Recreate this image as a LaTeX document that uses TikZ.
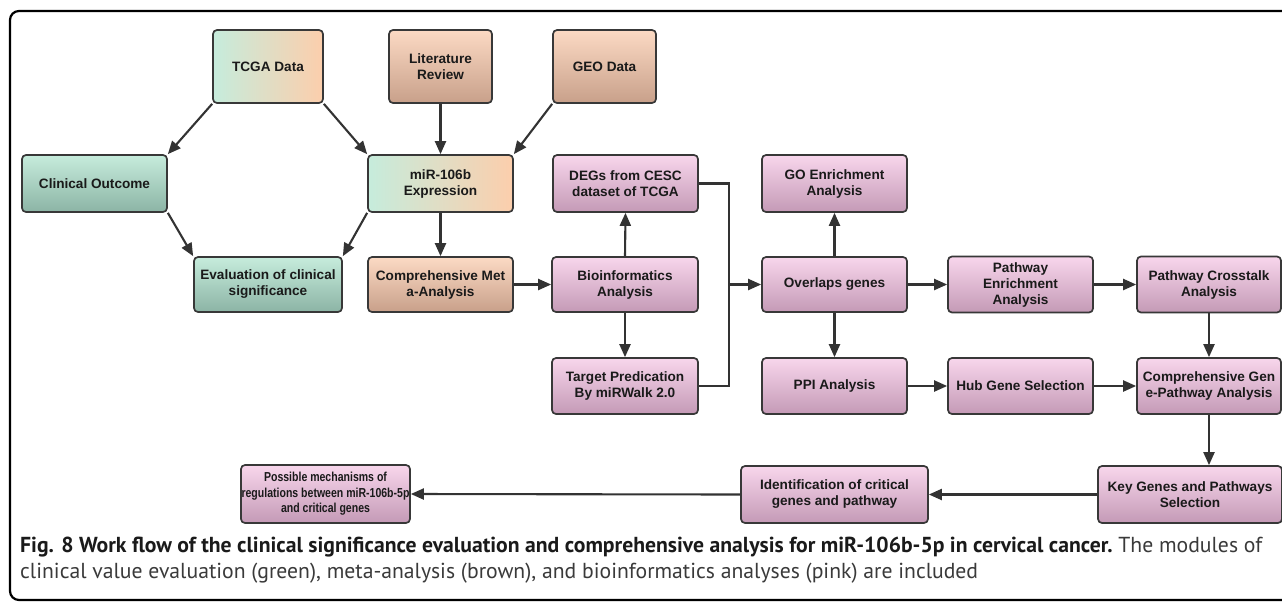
\documentclass[tikz,border=0pt]{standalone}
\usepackage{fontspec}
\setmainfont{Liberation Sans}
\newfontfamily\narrowfont[FakeStretch=0.81]{Liberation Sans}
\newfontfamily\capfont{PT Sans}
\usetikzlibrary{arrows.meta}
\definecolor{bordc}{HTML}{383838}
\definecolor{arrc}{HTML}{333333}
\definecolor{txtc}{HTML}{1A1A1A}
\definecolor{grtop}{HTML}{C6ECDC}
\definecolor{grbot}{HTML}{8CB4A5}
\definecolor{brtop}{HTML}{FCDAC4}
\definecolor{brbot}{HTML}{C8A08A}
\definecolor{mxl}{HTML}{C6ECDC}
\definecolor{mxr}{HTML}{FCCEAC}
\definecolor{pktop}{HTML}{F8D6EC}
\definecolor{pkbot}{HTML}{C49AB6}
\definecolor{capblack}{HTML}{1A1A1A}
\definecolor{capgray}{HTML}{3A3A3A}
\newcommand\bxfont{\bfseries\fontsize{13.6}{16}\selectfont}
\newcommand\nrfont{\narrowfont\bfseries\fontsize{13}{15.5}\selectfont}
\newsavebox\capbox
\newlength\caplen
\newcommand\capone{\textbf{Fig. 8 Work flow of the clinical significance evaluation and comprehensive analysis for miR-106b-5p in cervical cancer.}\ {\color{capgray}The modules of}}
\newcommand\captwo{clinical value evaluation (green), meta-analysis (brown), and bioinformatics analyses (pink) are included}
\AtBeginDocument{%
  \sbox\capbox{\capfont\fontsize{10}{12}\selectfont\capone}%
  \global\caplen=\wd\capbox
  \pgfmathsetmacro\capsz{10*1242/\caplen}%
  \xdef\capsz{\capsz}}
\begin{document}
\begin{tikzpicture}[x=1pt,y=-1pt,
  box/.style={draw=bordc, line width=1.7pt, rounded corners=4pt, align=center, inner sep=0pt, text=txtc, font=\bxfont},
  sz/.style 2 args={minimum width=#1pt, minimum height=#2pt},
  green/.style={box, top color=grtop, bottom color=grbot},
  brown/.style={box, top color=brtop, bottom color=brbot},
  mixed/.style={box, left color=mxl, right color=mxr},
  pink/.style={box, top color=pktop, bottom color=pkbot},
  arr/.style={draw=arrc, line width=2.1pt, -{Triangle[length=13pt,width=11pt]}},
  conn/.style={draw=arrc, line width=2.1pt, line join=miter},
  captext/.style={anchor=base west, inner sep=0pt, text=capblack}
]
\useasboundingbox (0,0) rectangle (1282,603);
\fill[white] (0,0) rectangle (1282,603);
\draw[line width=2.2pt, rounded corners=9pt] (10,11) rectangle (1310,600);

% row 1
\node[mixed, sz={110}{73}] (tcga) at (268,66.5) {TCGA Data};
\node[brown, sz={103}{73}] (lit) at (440.5,66.5) {Literature\\Review};
\node[brown, sz={103}{73}] (geo) at (604.5,66.5) {GEO Data};
% row 2
\node[green, sz={145}{57}] (clin) at (94.5,183.5) {Clinical Outcome};
\node[mixed, sz={145}{57}] (mir) at (440.5,183.5) {miR-106b\\Expression};
\node[pink, sz={145}{57}] (degs) at (625.5,183.5) {DEGs from CESC\\dataset of TCGA};
\node[pink, sz={145}{57}] (go) at (834.5,183.5) {GO Enrichment\\Analysis};
% row 3
\node[green, sz={148}{55}] (eval) at (268,284.5) {Evaluation of clinical\\significance};
\node[brown, sz={145}{55}] (meta) at (440.5,284.5) {Comprehensive Met\\a-Analysis};
\node[pink, sz={146}{55}] (bio) at (625,284.5) {Bioinformatics\\Analysis};
\node[pink, sz={145}{55}] (ovl) at (834.5,284.5) {Overlaps genes};
\node[pink, sz={145}{56}] (penr) at (1020.5,284.5) {Pathway\\Enrichment\\Analysis};
\node[pink, sz={144}{56}] (ctalk) at (1209,284.5) {Pathway Crosstalk\\Analysis};
% row 4
\node[pink, sz={146}{56}] (targ) at (625,386) {Target Predication\\By miRWalk 2.0};
\node[pink, sz={145}{56}] (ppi) at (834.5,386) {PPI Analysis};
\node[pink, sz={145}{56}] (hub) at (1020.5,386) {Hub Gene Selection};
\node[pink, sz={144}{56}] (cgp) at (1209,386) {Comprehensive Gen\\e-Pathway Analysis};
% row 5
\node[pink, sz={169}{58}, font=\nrfont] (poss) at (325.5,494) {Possible mechanisms of\\regulations between miR-106b-5p\\and critical genes};
\node[pink, sz={187}{57}] (ident) at (834.5,494.5) {Identification of critical\\genes and pathway};
\node[pink, sz={184}{57}] (key) at (1190,494.5) {Key Genes and Pathways\\Selection};

% connectors
\draw[arr] (tcga.south west) -- (clin.north east);
\draw[arr] (tcga.south east) -- (mir.north west);
\draw[arr] (lit.south) -- (mir.north);
\draw[arr] (geo.south west) -- (mir.north east);
\draw[arr] (clin.south east) -- (eval.north west);
\draw[arr] (mir.south west) -- (eval.north east);
\draw[arr] (mir.south) -- (meta.north);
\draw[arr] (meta.east) -- (bio.west);
\draw[arr] (bio.north) -- (degs.south);
\draw[arr] (bio.south) -- (targ.north);
\coordinate (jtop) at (729,183.5);
\coordinate (jbot) at (729,386);
\coordinate (jmid) at (729,284.5);
\draw[conn] (degs.east) -- (jtop) -- (jbot) -- (targ.east);
\draw[arr] (jmid) -- (ovl.west);
\draw[arr] (ovl.north) -- (go.south);
\draw[arr] (ovl.south) -- (ppi.north);
\draw[arr] (ovl.east) -- (penr.west);
\draw[arr] (penr.east) -- (ctalk.west);
\draw[arr] (ctalk.south) -- (cgp.north);
\draw[arr] (ppi.east) -- (hub.west);
\draw[arr] (hub.east) -- (cgp.west);
\draw[arr] (cgp.south) -- (cgp.south |- key.north);
\draw[arr] (key.west) -- (ident.east);
\draw[arr] (ident.west) -- (poss.east);

% caption
\node[captext, font=\capfont\fontsize{\capsz}{20}\selectfont] (cap1) at (20,552) {\capone};
\node[captext, font=\capfont\fontsize{\capsz}{20}\selectfont, text=capgray] (cap2) at (20,578) {\captwo};
\end{tikzpicture}
\end{document}
